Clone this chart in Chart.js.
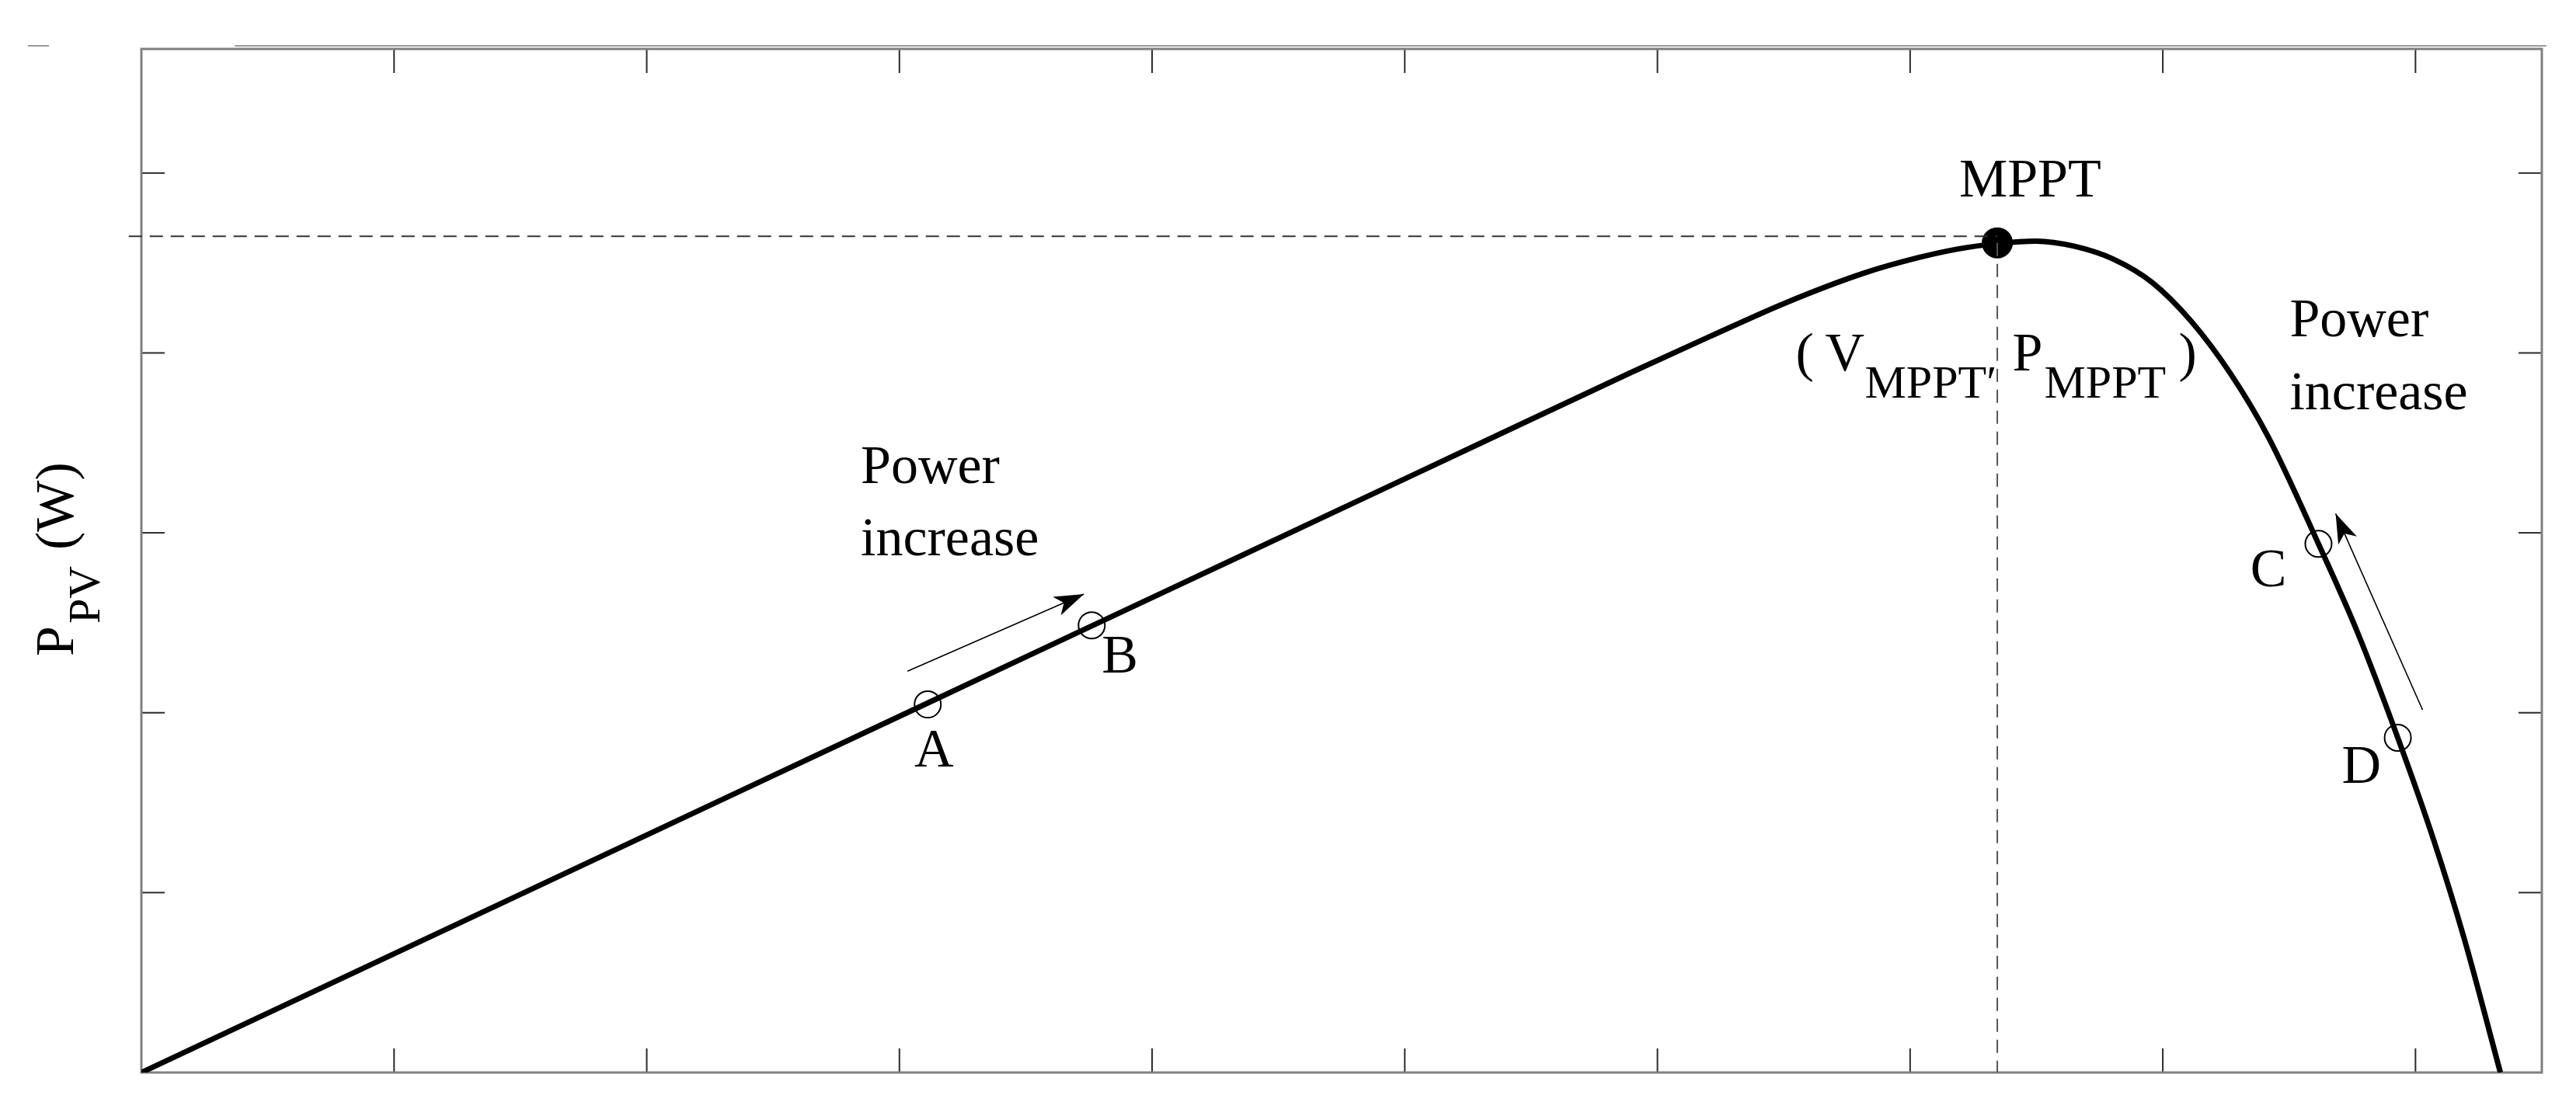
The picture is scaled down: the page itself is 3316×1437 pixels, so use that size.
<!DOCTYPE html>
<html>
<head>
<meta charset="utf-8">
<script src="https://cdn.jsdelivr.net/npm/chart.js@4.4.1/dist/chart.umd.min.js"></script>
<style>
  html, body { margin: 0; padding: 0; background: #fff; }
  #box { width: 3316px; height: 1437px; position: relative; }
</style>
</head>
<body>
<div id="box"><canvas id="pv"></canvas></div>
<script>
/* P-V curve (x = V, y = P, arbitrary units) */
var curveV = [0, 1.85, 3.112, 4.053, 4.699, 5.283, 5.898, 6.205, 6.513, 6.820, 7.036, 7.189, 7.345, 7.497, 7.651, 7.804, 7.958, 8.112, 8.266, 8.419, 8.616, 8.770, 8.930, 9.071, 9.193, 9.336];
var curveP = [0, 1.221, 2.054, 2.675, 3.101, 3.487, 3.893, 4.090, 4.282, 4.445, 4.531, 4.578, 4.608, 4.622, 4.593, 4.522, 4.392, 4.177, 3.889, 3.529, 2.939, 2.449, 1.861, 1.297, 0.744, 0];

/* maximum power point */
var mpptV = 7.345;
var mpptP = 4.612;
var mpptLevel = 4.648;   // horizontal dashed guide

/* operating points */
var markerNames = ['A', 'B', 'C', 'D'];
var markerV = [3.112, 3.761, 8.616, 8.930];
var markerP = [2.046, 2.486, 2.939, 1.861];

/* arrows (tail -> tip) */
var arrowFromV = [3.032, 9.028];
var arrowFromP = [2.231, 2.016];
var arrowToV = [3.730, 8.684];
var arrowToP = [2.659, 3.107];

/* axes */
var xTicks = [1, 2, 3, 4, 5, 6, 7, 8, 9];
var yTicks = [1, 2, 3, 4, 5];
var xMax = 9.5;
var yMax = 5.69;

var SERIF = '"Liberation Serif", "DejaVu Serif", serif';

function pts(xs, ys) {
	var out = [];
	for (var i = 0; i < xs.length; i++) out.push({x: xs[i], y: ys[i]});
	return out;
}

function seg(ctx, x1, y1, x2, y2) {
	ctx.beginPath();
	ctx.moveTo(x1, y1);
	ctx.lineTo(x2, y2);
	ctx.stroke();
}

/* box, inward ticks and the stray scan lines above the box */
var framePlugin = {
	id: 'frame',
	beforeDatasetsDraw: function(chart) {
		var ctx = chart.ctx, a = chart.chartArea;
		var sx = chart.scales.x, sy = chart.scales.y;
		ctx.save();
		ctx.strokeStyle = '#9a9a9a';
		ctx.lineWidth = 2;
		seg(ctx, a.left + 120, a.top - 4, a.right + 6, a.top - 4);
		seg(ctx, 36, a.top - 4, 63, a.top - 4);

		ctx.strokeStyle = '#2a2a2a';
		ctx.lineWidth = 2;
		xTicks.forEach(function(v) {
			var px = sx.getPixelForValue(v);
			seg(ctx, px, a.bottom, px, a.bottom - 31);
			seg(ctx, px, a.top, px, a.top + 31);
		});
		yTicks.forEach(function(v) {
			var py = sy.getPixelForValue(v);
			seg(ctx, a.left, py, a.left + 30, py);
			seg(ctx, a.right, py, a.right - 30, py);
		});

		ctx.strokeStyle = '#808080';
		ctx.lineWidth = 3;
		ctx.strokeRect(a.left, a.top, a.right - a.left, a.bottom - a.top);
		ctx.restore();
	}
};

/* labels, arrowheads, axis title */
var notesPlugin = {
	id: 'notes',
	afterDatasetsDraw: function(chart) {
		var ctx = chart.ctx, a = chart.chartArea;
		var sx = chart.scales.x, sy = chart.scales.y;
		ctx.save();
		ctx.fillStyle = '#000';
		ctx.textBaseline = 'alphabetic';

		// arrowheads
		for (var i = 0; i < arrowToV.length; i++) {
			var x1 = sx.getPixelForValue(arrowFromV[i]), y1 = sy.getPixelForValue(arrowFromP[i]);
			var x2 = sx.getPixelForValue(arrowToV[i]), y2 = sy.getPixelForValue(arrowToP[i]);
			var ang = Math.atan2(y2 - y1, x2 - x1);
			ctx.save();
			ctx.translate(x2, y2);
			ctx.rotate(ang);
			ctx.beginPath();
			ctx.moveTo(0, 0);
			ctx.lineTo(-38, -13);
			ctx.lineTo(-28, 0);
			ctx.lineTo(-38, 13);
			ctx.closePath();
			ctx.fill();
			ctx.restore();
		}

		// plain labels
		var notes = [
			{t: 'MPPT', v: 7.475, p: 4.868, align: 'center'},
			{t: 'Power', v: 2.847, p: 3.276, align: 'left'},
			{t: 'increase', v: 2.847, p: 2.874, align: 'left'},
			{t: 'Power', v: 8.502, p: 4.091, align: 'left'},
			{t: 'increase', v: 8.502, p: 3.686, align: 'left'},
			{t: markerNames[0], v: 3.137, p: 1.700, align: 'center'},
			{t: markerNames[1], v: 3.801, p: 2.223, align: 'left'},
			{t: markerNames[2], v: 8.346, p: 2.702, align: 'left'},
			{t: markerNames[3], v: 8.708, p: 1.610, align: 'left'}
		];
		ctx.font = '70px ' + SERIF;
		notes.forEach(function(n) {
			ctx.textAlign = n.align;
			ctx.fillText(n.t, sx.getPixelForValue(n.v), sy.getPixelForValue(n.p));
		});

		// ( V_MPPT′ P_MPPT )
		var bx = sx.getPixelForValue(6.547), by = sy.getPixelForValue(3.902);
		ctx.textAlign = 'left';
		ctx.font = '70px ' + SERIF;
		ctx.fillText('(', bx, by);
		ctx.fillText('V', bx + 38, by);
		ctx.fillText('P', bx + 279, by);
		ctx.fillText(')', bx + 493, by);
		ctx.font = '60px ' + SERIF;
		ctx.fillText('MPPT\u2032', bx + 89, by + 35);
		ctx.fillText('MPPT', bx + 320, by + 35);

		// y axis title, rotated
		ctx.save();
		ctx.translate(a.left - 88, a.top + 782);
		ctx.rotate(-Math.PI / 2);
		ctx.font = '70px ' + SERIF;
		ctx.fillText('P', 0, 0);
		ctx.fillText('(W)', 137, 0);
		ctx.font = '58px ' + SERIF;
		ctx.fillText('PV', 42, 34);
		ctx.restore();

		ctx.restore();
	}
};

var ctx = document.getElementById('pv').getContext('2d');
var pvChart = new Chart(ctx, {
	type: 'scatter',
	data: {
		datasets: [
			{
				// horizontal guide at P_MPPT
				data: [{x: -0.05, y: mpptLevel}, {x: mpptV, y: mpptLevel}],
				showLine: true, borderColor: '#333', borderWidth: 2, borderDash: [17, 10],
				pointRadius: 0, clip: false
			},
			{
				// vertical guide at V_MPPT
				data: [{x: mpptV, y: mpptP}, {x: mpptV, y: 0}],
				showLine: true, borderColor: '#555', borderWidth: 2, borderDash: [17, 10],
				pointRadius: 0
			},
			{
				data: pts(curveV, curveP),
				showLine: true, borderColor: '#000', borderWidth: 7,
				cubicInterpolationMode: 'monotone', pointRadius: 0
			},
			{
				data: [{x: arrowFromV[0], y: arrowFromP[0]}, {x: arrowToV[0], y: arrowToP[0]}],
				showLine: true, borderColor: '#000', borderWidth: 1.6, pointRadius: 0
			},
			{
				data: [{x: arrowFromV[1], y: arrowFromP[1]}, {x: arrowToV[1], y: arrowToP[1]}],
				showLine: true, borderColor: '#000', borderWidth: 1.6, pointRadius: 0
			},
			{
				data: pts(markerV, markerP),
				showLine: false, pointRadius: 17, pointBorderWidth: 2,
				pointBorderColor: '#000', pointBackgroundColor: 'rgba(0,0,0,0)'
			},
			{
				data: [{x: mpptV, y: mpptP}],
				showLine: false, pointRadius: 20, pointBorderWidth: 0,
				pointBackgroundColor: '#000', pointBorderColor: '#000'
			}
		]
	},
	options: {
		responsive: true,
		maintainAspectRatio: false,
		animation: false,
		devicePixelRatio: 1,
		layout: { padding: { left: 182, right: 44, top: 63, bottom: 56 } },
		plugins: { legend: { display: false }, tooltip: { enabled: false } },
		events: [],
		scales: {
			x: { type: 'linear', min: 0, max: xMax, display: false },
			y: { type: 'linear', min: 0, max: yMax, display: false }
		}
	},
	plugins: [framePlugin, notesPlugin]
});
</script>
</body>
</html>
